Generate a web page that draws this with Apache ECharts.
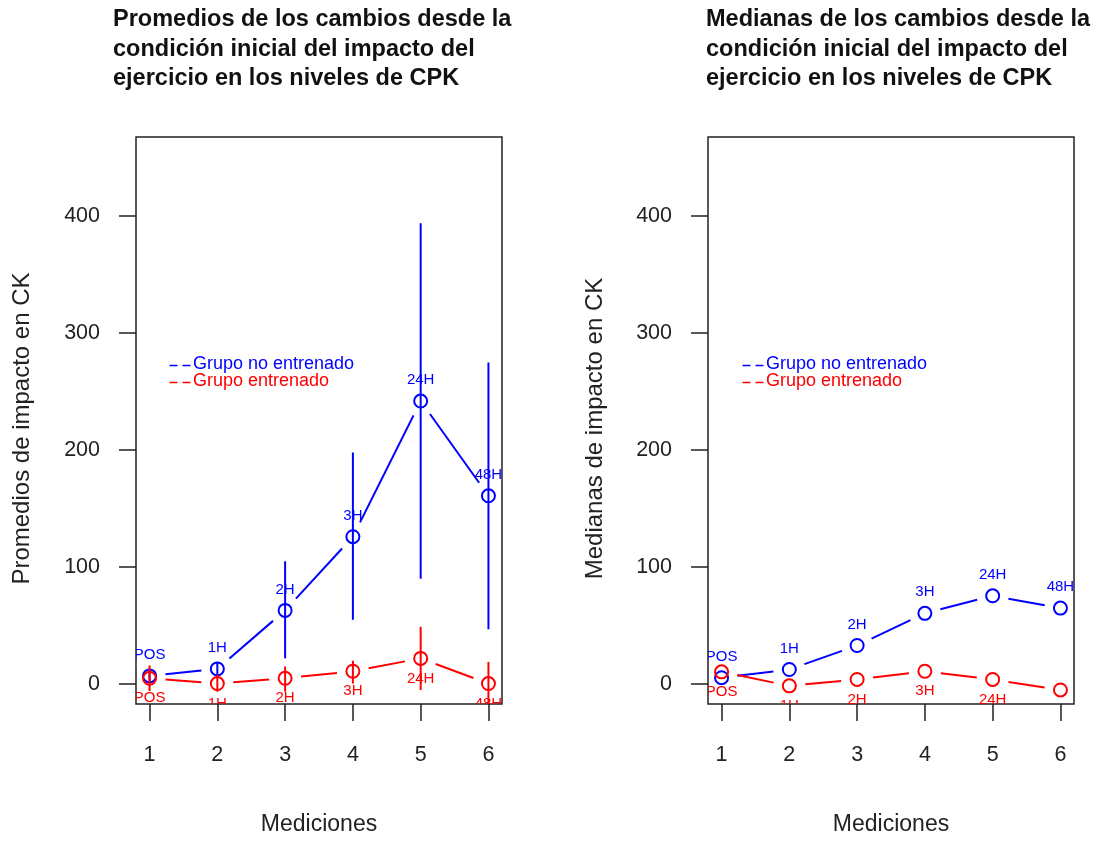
<!DOCTYPE html>
<html>
<head>
<meta charset="utf-8">
<script src="https://cdn.jsdelivr.net/npm/echarts@6/dist/echarts.min.js"></script>
<style>
  html, body { margin: 0; padding: 0; background: #fff; }
  #chart { width: 1097px; height: 841px; }
</style>
</head>
<body>
<div id="chart"></div>
<script>
// mediciones 1..6
const mediciones = [1, 2, 3, 4, 5, 6];
const etiquetas = ['POS', '1H', '2H', '3H', '24H', '48H'];
const yTicks = [0, 100, 200, 300, 400];

// promedios (panel izquierdo) con barras de error
const promNoEnt = [7, 13, 63, 126, 242, 161];
const promNoEntLo = [2, 6, 22, 55, 90, 47];
const promNoEntHi = [12, 19, 105, 198, 394, 275];
const promEnt = [5, 0.5, 5, 11, 22, 0.5];
const promEntLo = [-6, -6.5, -6.5, 0.5, -5, -24];
const promEntHi = [16, 8, 15, 20, 49, 19];

// medianas (panel derecho)
const medNoEnt = [5.5, 12.5, 33, 60.5, 75.5, 65];
const medEnt = [10.5, -1.5, 4, 11, 4, -5];

const AZUL = '#0000ff';
const ROJO = '#ff0000';
const FONT = 'Liberation Sans, Arial, sans-serif';

function buildRows(vals, lo, hi) {
    return vals.map(function (v, i) {
        return [
            mediciones[i], v,
            lo ? lo[i] : NaN, hi ? hi[i] : NaN,
            i < vals.length - 1 ? mediciones[i + 1] : NaN,
            i < vals.length - 1 ? vals[i + 1] : NaN
        ];
    });
}

function makeRender(color, above) {
    return function (params, api) {
        const cs = params.coordSys;
        const p = api.coord([api.value(0), api.value(1)]);
        const kids = [];
        const lo = api.value(2), hi = api.value(3);
        if (isFinite(lo) && isFinite(hi)) {
            const a = api.coord([api.value(0), lo]);
            const b = api.coord([api.value(0), hi]);
            kids.push({type: 'line', shape: {x1: a[0], y1: a[1], x2: b[0], y2: b[1]},
                style: {stroke: color, lineWidth: 2}});
        }
        // tramo hasta el siguiente punto, con hueco alrededor de los circulos
        const nx = api.value(4), ny = api.value(5);
        if (isFinite(nx) && isFinite(ny)) {
            const q = api.coord([nx, ny]);
            const dx = q[0] - p[0], dy = q[1] - p[1];
            const d = Math.sqrt(dx * dx + dy * dy);
            const g = 16;
            if (d > 2 * g) {
                kids.push({type: 'line', shape: {
                    x1: p[0] + dx / d * g, y1: p[1] + dy / d * g,
                    x2: q[0] - dx / d * g, y2: q[1] - dy / d * g
                }, style: {stroke: color, lineWidth: 2}});
            }
        }
        kids.push({type: 'circle', shape: {cx: p[0], cy: p[1], r: 6.5},
            style: {fill: null, stroke: color, lineWidth: 2}});
        kids.push({type: 'text', style: {
            text: etiquetas[params.dataIndex], x: p[0], y: p[1] + (above ? -21 : 20),
            fill: color, font: '15px ' + FONT, align: 'center', verticalAlign: 'middle'
        }});
        return {type: 'group', children: kids,
            clipPath: {type: 'rect', shape: {x: cs.x, y: cs.y, width: cs.width, height: cs.height}}};
    };
}

function xAxisFor(idx) {
    return {
        gridIndex: idx, type: 'value', min: 0.8, max: 6.2,
        name: 'Mediciones', nameLocation: 'middle', nameGap: 109,
        nameTextStyle: {fontSize: 23, color: '#222', fontFamily: FONT},
        axisLine: {show: false, onZero: false},
        splitLine: {show: false},
        axisTick: {show: true, length: 17, lineStyle: {color: '#222', width: 1.5}, customValues: mediciones},
        axisLabel: {fontSize: 21.5, color: '#222', fontFamily: FONT, margin: 40, customValues: mediciones}
    };
}

function yAxisFor(idx, name, gap) {
    return {
        gridIndex: idx, type: 'value', min: -17, max: 467.7,
        name: name, nameLocation: 'middle', nameGap: gap, nameRotate: 90,
        nameTextStyle: {fontSize: 24, color: '#222', fontFamily: FONT, padding: [0, 16, 0, 0]},
        axisLine: {show: false, onZero: false},
        splitLine: {show: false},
        axisTick: {show: true, length: 17, lineStyle: {color: '#222', width: 1.5}, customValues: yTicks},
        axisLabel: {fontSize: 21.5, color: '#222', fontFamily: FONT, margin: 36, customValues: yTicks}
    };
}

function legendGraphic(x0) {
    const items = [['Grupo no entrenado', AZUL, 364], ['Grupo entrenado', ROJO, 381]];
    const out = [];
    items.forEach(function (it) {
        out.push({type: 'line', left: x0, top: it[2] - 1,
            shape: {x1: 0, y1: 0, x2: 21, y2: 0},
            style: {stroke: it[1], lineWidth: 1.5, lineDash: [8, 5]}});
        out.push({type: 'text', left: x0 + 26, top: it[2] - 9,
            style: {text: it[0], fill: it[1], font: '18px ' + FONT}});
    });
    return out;
}

const chart = echarts.init(document.getElementById('chart'));
chart.setOption({
    backgroundColor: '#fff',
    animation: false,
    title: [
        {text: 'Promedios de los cambios desde la\ncondición inicial del impacto del\nejercicio en los niveles de CPK',
            left: 113, top: 5, padding: 0,
            textStyle: {fontSize: 23.5, fontWeight: 'bold', color: '#111', fontFamily: FONT, lineHeight: 29.5}},
        {text: 'Medianas de los cambios desde la\ncondición inicial del impacto del\nejercicio en los niveles de CPK',
            left: 706, top: 5, padding: 0,
            textStyle: {fontSize: 23.5, fontWeight: 'bold', color: '#111', fontFamily: FONT, lineHeight: 29.5}}
    ],
    grid: [
        {left: 136, top: 137, width: 366, height: 572, show: true, borderColor: '#222', borderWidth: 1.5, backgroundColor: 'transparent'},
        {left: 708, top: 137, width: 366, height: 572, show: true, borderColor: '#222', borderWidth: 1.5, backgroundColor: 'transparent'}
    ],
    xAxis: [xAxisFor(0), xAxisFor(1)],
    yAxis: [yAxisFor(0, 'Promedios de impacto en CK', 102), yAxisFor(1, 'Medianas de impacto en CK', 101)],
    graphic: legendGraphic(167).concat(legendGraphic(740)),
    series: [
        {type: 'custom', name: 'Grupo no entrenado', xAxisIndex: 0, yAxisIndex: 0,
            renderItem: makeRender(AZUL, true), encode: {x: 0, y: 1},
            data: buildRows(promNoEnt, promNoEntLo, promNoEntHi)},
        {type: 'custom', name: 'Grupo entrenado', xAxisIndex: 0, yAxisIndex: 0,
            renderItem: makeRender(ROJO, false), encode: {x: 0, y: 1},
            data: buildRows(promEnt, promEntLo, promEntHi)},
        {type: 'custom', name: 'Grupo no entrenado', xAxisIndex: 1, yAxisIndex: 1,
            renderItem: makeRender(AZUL, true), encode: {x: 0, y: 1},
            data: buildRows(medNoEnt, null, null)},
        {type: 'custom', name: 'Grupo entrenado', xAxisIndex: 1, yAxisIndex: 1,
            renderItem: makeRender(ROJO, false), encode: {x: 0, y: 1},
            data: buildRows(medEnt, null, null)}
    ]
});
</script>
</body>
</html>
